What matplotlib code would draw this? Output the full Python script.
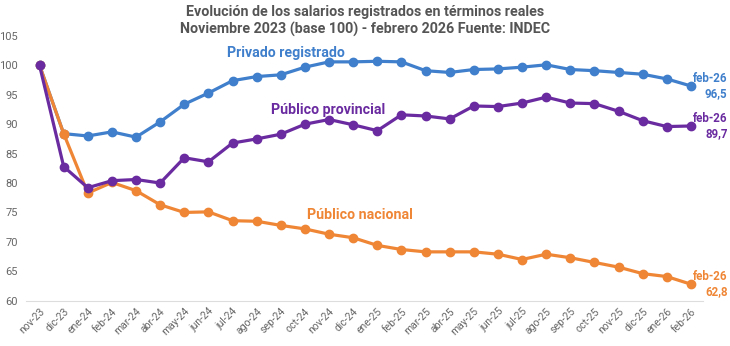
import matplotlib
matplotlib.use("Agg")
import matplotlib.pyplot as plt

plt.rcParams['font.family'] = ['Roboto', 'DejaVu Sans']

months = ['nov-23', 'dic-23', 'ene-24', 'feb-24', 'mar-24', 'abr-24', 'may-24',
          'jun-24', 'jul-24', 'ago-24', 'sep-24', 'oct-24', 'nov-24', 'dic-24',
          'ene-25', 'feb-25', 'mar-25', 'abr-25', 'may-25', 'jun-25', 'jul-25',
          'ago-25', 'sep-25', 'oct-25', 'nov-25', 'dic-25', 'ene-26', 'feb-26']

privado = [100, 88.4, 88.0, 88.7, 87.8, 90.4, 93.4, 95.3, 97.4, 98.1, 98.4,
           99.7, 100.6, 100.6, 100.7, 100.6, 99.1, 98.8, 99.3, 99.4, 99.7,
           100.1, 99.3, 99.1, 98.8, 98.5, 97.7, 96.5]
provincial = [100, 82.8, 79.2, 80.4, 80.6, 80.0, 84.3, 83.6, 86.8, 87.5, 88.3,
              90.0, 90.8, 89.9, 88.9, 91.6, 91.4, 90.9, 93.1, 93.0, 93.6,
              94.6, 93.6, 93.5, 92.2, 90.6, 89.6, 89.7]
nacional = [100, 88.4, 78.3, 80.1, 78.7, 76.3, 75.0, 75.1, 73.6, 73.5, 72.8,
            72.2, 71.3, 70.7, 69.4, 68.7, 68.3, 68.3, 68.3, 67.9, 67.0,
            67.9, 67.3, 66.5, 65.7, 64.6, 64.1, 62.8]

BLUE = '#3f7fcb'
PURPLE = '#6a2ba0'
ORANGE = '#ef8636'
GRAY = '#666666'

fig = plt.figure(figsize=(7.3, 3.46), dpi=100)
ax = fig.add_axes([0.036, 0.131, 0.927, 0.765])

x = list(range(len(months)))
series = [(privado, BLUE), (nacional, ORANGE), (provincial, PURPLE)]
for vals, color in series:
    ax.plot(x, vals, color=color, lw=2.3, marker='o', ms=6, zorder=3)
# orange marker sits on top at dic-23
ax.plot(x[1], nacional[1], marker='o', ms=6, color=ORANGE, zorder=4)

ax.text(7.75, 102.1, 'Privado registrado', color=BLUE, fontsize=10.2,
        fontweight='bold', va='center')
ax.text(9.6, 92.4, 'Público provincial', color=PURPLE, fontsize=10.2,
        fontweight='bold', va='center')
ax.text(11.1, 74.6, 'Público nacional', color=ORANGE, fontsize=10.2,
        fontweight='bold', va='center')

last = len(months) - 1
for vals, color in series:
    ax.annotate('%s\n%s' % (months[-1], ('%.1f' % vals[-1]).replace('.', ',')),
                xy=(last, vals[-1]), xytext=(1.5, 0), textcoords='offset points',
                color=color, fontsize=8.3, fontweight='bold', ha='left',
                va='center', linespacing=1.15, multialignment='right')

ax.set_xlim(-0.55, 27.5)
ax.set_ylim(60, 105)
ax.set_yticks(range(60, 106, 5))
ax.set_xticks(x)
ax.set_xticklabels(months, rotation=45, ha='right', rotation_mode='anchor')
ax.tick_params(axis='both', length=0, colors=GRAY)
ax.tick_params(axis='y', pad=6, labelsize=8)
ax.tick_params(axis='x', pad=4, labelsize=7.5)
for side in ['top', 'right', 'left']:
    ax.spines[side].set_visible(False)
ax.spines['bottom'].set_color('#dddddd')

fig.text(0.5, 0.985, 'Evolución de los salarios registrados en términos reales\n'
         'Noviembre 2023 (base 100) - febrero 2026 Fuente: INDEC',
         ha='center', va='top', fontsize=10.3, fontweight='bold', color='#555555',
         linespacing=1.2)

plt.savefig('out.png', dpi=100)
